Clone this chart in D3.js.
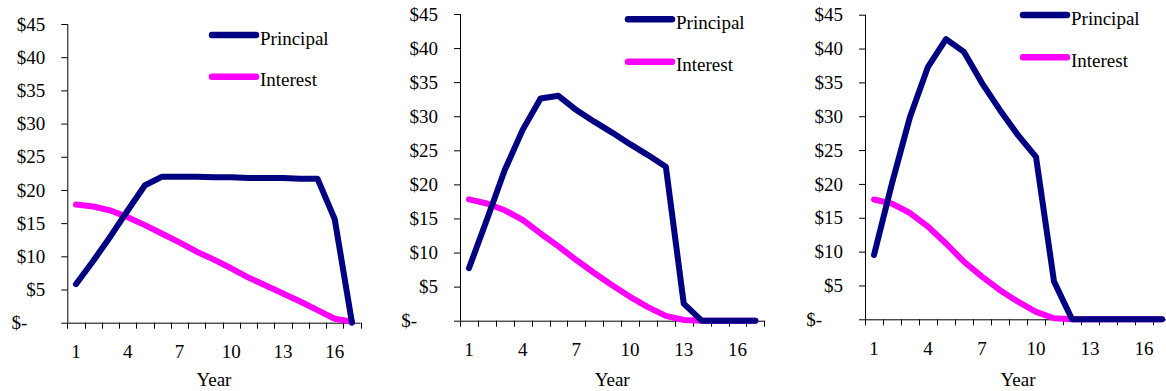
<!DOCTYPE html>
<html>
<head>
<meta charset="utf-8">
<script src="https://cdn.jsdelivr.net/npm/d3@7"></script>
<style>
  html, body { margin: 0; padding: 0; background: #fff; }
  svg { display: block; }
  svg text { font-family: 'Liberation Serif', 'Times New Roman', Times, 'DejaVu Serif', serif !important; fill: #000; }
</style>
</head>
<body>
<svg id="chart" width="1166" height="391"></svg>
<script>
// ---- data ----
const years = [1, 2, 3, 4, 5, 6, 7, 8, 9, 10, 11, 12, 13, 14, 15, 16, 17];
const xTickLabels = [1, 4, 7, 10, 13, 16];
const yTickValues = [0, 5, 10, 15, 20, 25, 30, 35, 40, 45];
const seriesNames = ["Principal", "Interest"];
const seriesColors = ["#000080", "#FF00FF"];

const principalA = [5.8, 9.3, 13.0, 16.9, 20.7, 22.0, 22.0, 22.0, 21.9, 21.9, 21.8, 21.8, 21.8, 21.7, 21.7, 15.6, 0];
const interestA  = [17.8, 17.5, 16.9, 15.9, 14.7, 13.4, 12.1, 10.7, 9.5, 8.2, 6.8, 5.6, 4.4, 3.2, 1.9, 0.6, 0.15];

const principalB = [7.7, 14.8, 22.1, 28.0, 32.6, 33.0, 30.9, 29.2, 27.6, 25.9, 24.3, 22.6, 2.5, 0, 0, 0, 0];
const interestB  = [17.8, 17.2, 16.2, 14.8, 12.8, 10.9, 8.9, 7.0, 5.2, 3.5, 2.0, 0.7, 0.1, 0, 0, 0, 0];

const principalC = [9.5, 20.1, 29.9, 37.3, 41.4, 39.5, 34.9, 30.9, 27.2, 24.0, 5.6, 0, 0, 0, 0, 0, 0];
const interestC  = [17.7, 17.1, 15.7, 13.7, 11.2, 8.5, 6.3, 4.3, 2.6, 1.1, 0.15, 0, 0, 0, 0, 0, 0];

// ---- layout ----
const FONT = "'Liberation Serif', 'Times New Roman', Times, 'DejaVu Serif', serif";
const panels = [
  { x0: 67.3, x1: 360.6, yBottom: 322.7, yTop: 24.0, zeroDx: 40, legX: 209, legY1: 35, legY2: 76.7,
    principal: principalA, interest: interestA },
  { x0: 460.0, x1: 764.3, yBottom: 320.7, yTop: 14.0, zeroDx: 43, legX: 625, legY1: 19.3, legY2: 61.7,
    principal: principalB, interest: interestB },
  { x0: 865.0, x1: 1171.0, yBottom: 319.3, yTop: 14.7, zeroDx: 43, legX: 1020, legY1: 15, legY2: 57.3,
    principal: principalC, interest: interestC }
];

const svg = d3.select("#chart").attr("font-family", FONT);

panels.forEach(p => {
  const g = svg.append("g");
  const x = d3.scaleBand().domain(years).range([p.x0, p.x1]).paddingInner(0).paddingOuter(0);
  const y = d3.scaleLinear().domain([0, 45]).range([p.yBottom, p.yTop]);

  // y axis
  const yAxis = d3.axisLeft(y)
    .tickValues(yTickValues)
    .tickSize(6)
    .tickPadding(16)
    .tickFormat(v => v === 0 ? "$-" : "$" + v);
  const ya = g.append("g").attr("transform", `translate(${p.x0},0)`).call(yAxis)
    .attr("font-family", FONT).attr("font-size", 19);
  ya.select(".domain").attr("d", `M0.5,${p.yTop}V${p.yBottom}`).attr("stroke", "#000");
  ya.selectAll(".tick line").attr("stroke", "#000");
  ya.selectAll(".tick text")
    .attr("font-family", FONT)
    .attr("font-size", 19)
    .attr("fill", "#000")
    .attr("dx", d => d === 0 ? -(p.zeroDx - 22) : 0);

  // x axis: ticks at category boundaries
  const boundaries = years.map(d => x(d)).concat([x(years[years.length - 1]) + x.bandwidth()]);
  const xa = g.append("g");
  xa.append("line")
    .attr("x1", p.x0).attr("x2", p.x1)
    .attr("y1", p.yBottom + 0.5).attr("y2", p.yBottom + 0.5)
    .attr("stroke", "#000");
  xa.selectAll("line.tk").data(boundaries).join("line")
    .attr("class", "tk")
    .attr("x1", d => Math.round(d) + 0.5).attr("x2", d => Math.round(d) + 0.5)
    .attr("y1", p.yBottom).attr("y2", p.yBottom + 6)
    .attr("stroke", "#000");
  xa.selectAll("text").data(xTickLabels).join("text")
    .attr("x", d => x(d) + x.bandwidth() / 2)
    .attr("y", p.yBottom + 35.5)
    .attr("text-anchor", "middle")
    .attr("font-family", FONT)
    .attr("font-size", 19)
    .text(d => d);

  g.append("text")
    .attr("x", (p.x0 + p.x1) / 2)
    .attr("y", 385.5)
    .attr("text-anchor", "middle")
    .attr("font-family", FONT)
    .attr("font-size", 19)
    .text("Year");

  // lines
  const line = d3.line()
    .x((d, i) => x(years[i]) + x.bandwidth() / 2)
    .y(d => y(d));
  [p.interest, p.principal].forEach((vals, k) => {
    const color = k === 0 ? seriesColors[1] : seriesColors[0];
    g.append("path")
      .datum(vals)
      .attr("d", line)
      .attr("fill", "none")
      .attr("stroke", color)
      .attr("stroke-width", 6)
      .attr("stroke-linejoin", "round")
      .attr("stroke-linecap", "round");
  });

  // legend
  [[seriesNames[0], seriesColors[0], p.legY1], [seriesNames[1], seriesColors[1], p.legY2]].forEach(([name, color, ly]) => {
    g.append("line")
      .attr("x1", p.legX + 3).attr("x2", p.legX + 47)
      .attr("y1", ly).attr("y2", ly)
      .attr("stroke", color)
      .attr("stroke-width", 6.5)
      .attr("stroke-linecap", "round");
    g.append("text")
      .attr("x", p.legX + 51)
      .attr("y", ly + 9.5)
      .attr("font-family", FONT)
      .attr("font-size", 19)
      .text(name);
  });
});
</script>
</body>
</html>
